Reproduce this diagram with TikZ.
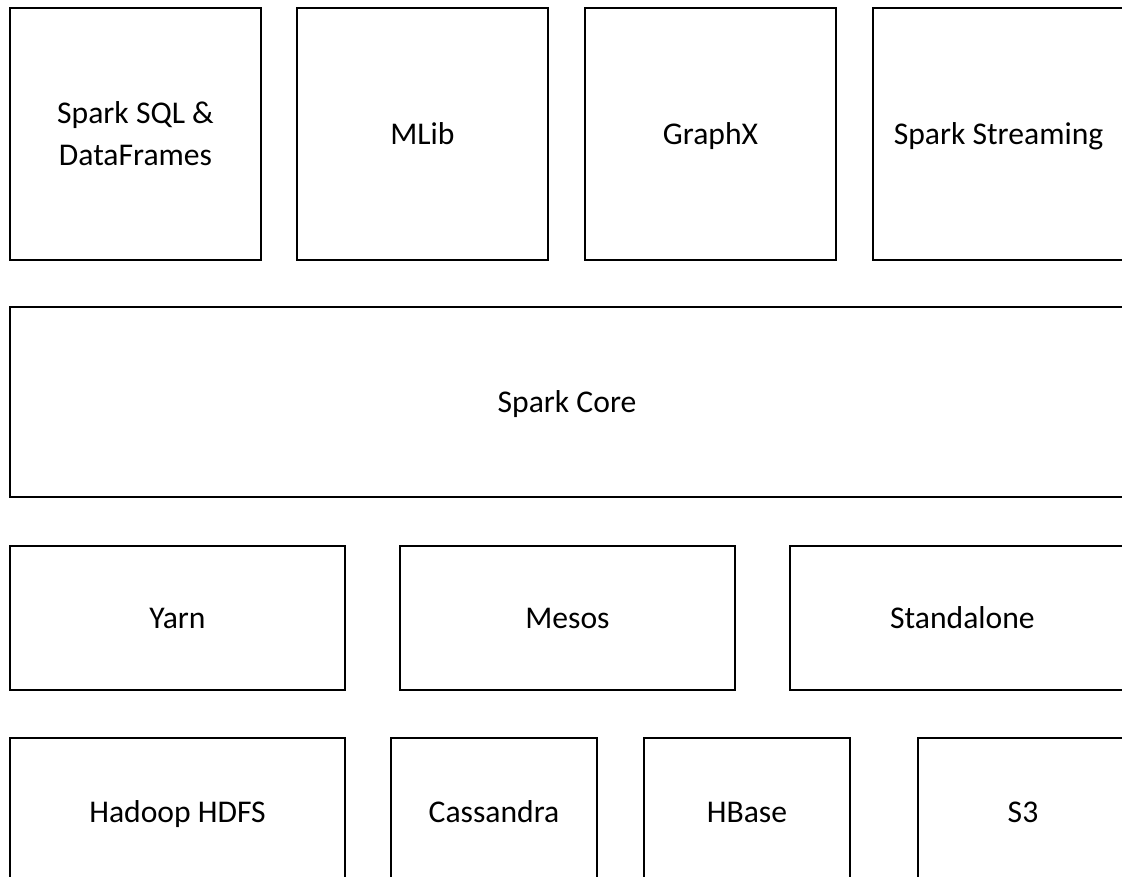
\documentclass[tikz,border=0pt]{standalone}
\usepackage{fontspec}
\setmainfont{Carlito}
\tikzset{
  layer/.style={draw, rectangle, line width=1.1pt, inner sep=0pt, align=center,
    font=\fontsize{18}{24}\selectfont},
  oneline/.style={layer, text height=14pt, text depth=2pt},
}
\begin{document}
\begin{tikzpicture}
  \useasboundingbox (0,0) rectangle (22.44,17.52);
  \clip (0,0) rectangle (22.44,17.52);
  % libraries
  \node[layer, minimum width=5.02cm, minimum height=5.04cm] (sql) at (2.71,14.84) {Spark SQL \&\\DataFrames};
  \node[oneline, minimum width=5.02cm, minimum height=5.04cm] (mlib) at (8.45,14.84) {MLib};
  \node[oneline, minimum width=5.02cm, minimum height=5.04cm] (graphx) at (14.21,14.84) {GraphX};
  \node[oneline, minimum width=5.02cm, minimum height=5.04cm] (streaming) at (19.97,14.84) {Spark Streaming};
  % core
  \node[oneline, minimum width=22.28cm, minimum height=3.8cm] (core) at (11.34,9.48) {Spark Core};
  % cluster managers
  \node[oneline, minimum width=6.7cm, minimum height=2.88cm] (yarn) at (3.55,5.16) {Yarn};
  \node[oneline, minimum width=6.7cm, minimum height=2.88cm] (mesos) at (11.35,5.16) {Mesos};
  \node[oneline, minimum width=6.9cm, minimum height=2.88cm] (standalone) at (19.25,5.16) {Standalone};
  % storage
  \node[oneline, minimum width=6.7cm, minimum height=2.96cm] (hdfs) at (3.55,1.28) {Hadoop HDFS};
  \node[oneline, minimum width=4.12cm, minimum height=2.96cm] (cassandra) at (9.88,1.28) {Cassandra};
  \node[oneline, minimum width=4.12cm, minimum height=2.96cm] (hbase) at (14.94,1.28) {HBase};
  \node[oneline, minimum width=4.2cm, minimum height=2.96cm] (s3) at (20.46,1.28) {S3};
\end{tikzpicture}
\end{document}
